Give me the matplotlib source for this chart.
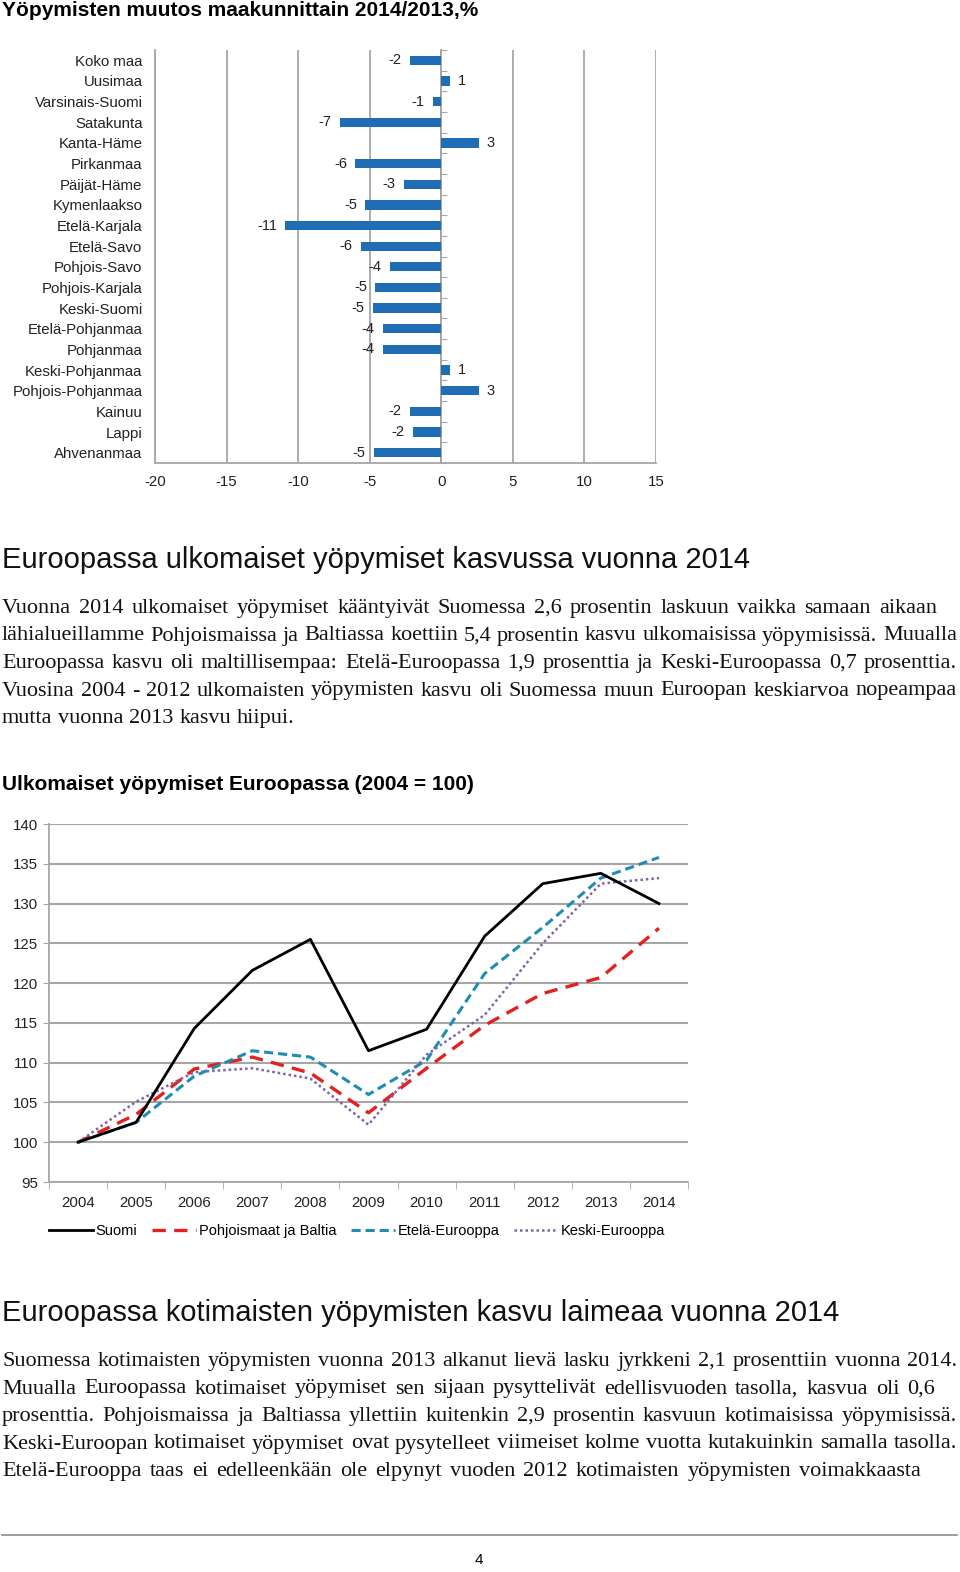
import numpy as np
import matplotlib.pyplot as plt
from matplotlib.lines import Line2D

plt.rcParams['axes.unicode_minus'] = False

# --- data: overnight stays change by region 2014/2013, %
regions = ['Koko maa', 'Uusimaa', 'Varsinais-Suomi', 'Satakunta', 'Kanta-Häme',
           'Pirkanmaa', 'Päijät-Häme', 'Kymenlaakso', 'Etelä-Karjala', 'Etelä-Savo',
           'Pohjois-Savo', 'Pohjois-Karjala', 'Keski-Suomi', 'Etelä-Pohjanmaa',
           'Pohjanmaa', 'Keski-Pohjanmaa', 'Pohjois-Pohjanmaa', 'Kainuu', 'Lappi',
           'Ahvenanmaa']
change = [-2.2, 0.6, -0.6, -7.1, 2.6, -6.0, -2.6, -5.3, -10.9, -5.6,
          -3.6, -4.6, -4.8, -4.1, -4.1, 0.6, 2.6, -2.2, -2.0, -4.7]

# --- data: foreign overnight stays in Europe (2004 = 100)
years = ['2004', '2005', '2006', '2007', '2008', '2009', '2010', '2011', '2012', '2013', '2014']
suomi = [100, 102.5, 114.3, 121.6, 125.5, 111.5, 114.2, 125.9, 132.5, 133.8, 130.0]
pohjoismaat = [100, 103.5, 109.2, 110.7, 108.7, 103.7, 109.3, 114.7, 118.7, 120.7, 126.9]
etela = [100, 102.5, 108.3, 111.5, 110.7, 106.0, 110.3, 121.2, 127.0, 133.2, 135.8]
keski = [100, 105.1, 108.8, 109.3, 108.0, 102.2, 111.0, 116.0, 125.0, 132.5, 133.2]

W, H = 960, 1572
fig = plt.figure(figsize=(W / 100, H / 100), dpi=100)
grey = '#a6a6a6'
sans = 'Liberation Sans'
serif = 'Liberation Serif'


def fy(px):
    return 1 - px / H


# ---------------- bar chart ----------------
fig.text(2 / W, fy(11), 'Yöpymisten muutos maakunnittain 2014/2013,%',
         fontsize=15, fontweight='bold', family=sans, va='center')

ax = fig.add_axes([155 / W, fy(463), 501 / W, 413 / H])
pos = np.arange(len(regions))
bars = ax.barh(pos, change, height=0.45, color='#1f6db5', zorder=3)
ax.bar_label(bars, labels=['%.0f' % v for v in change], padding=6,
             fontsize=10.5, family=sans, color='#222222')
ax.set_ylim(len(regions) - 0.5, -0.5)
ax.set_xlim(-20, 15)
ax.set_xticks(np.arange(-20, 16, 5))
ax.set_yticks(pos, regions)
ax.grid(axis='x', color=grey, lw=1.3, zorder=0)
for s in ['top', 'right']:
    ax.spines[s].set_visible(False)
for s in ['left', 'bottom']:
    ax.spines[s].set_color(grey)
    ax.spines[s].set_linewidth(1.3)
ax.tick_params(axis='y', length=0, pad=9, labelsize=10.8, labelcolor='#222222')
ax.tick_params(axis='x', length=0, pad=9, labelsize=10.8, labelcolor='#222222')
for lab in ax.get_xticklabels() + ax.get_yticklabels():
    lab.set_family(sans)

# category axis crossing at zero
sec = ax.secondary_yaxis(20 / 35)
sec.set_yticks(np.arange(-0.5, len(regions), 1))
sec.tick_params(axis='y', direction='out', length=4, color=grey, labelleft=False,
                labelright=False)
for s in sec.spines.values():
    s.set_color(grey)
    s.set_linewidth(1.3)

# ---------------- text blocks ----------------
renderer = fig.canvas.get_renderer()


def width_of(s, size):
    t = fig.text(0, 0, s, fontsize=size, family=serif)
    w = t.get_window_extent(renderer).width
    t.remove()
    return w


def paragraph(lines, targets, top, step, size):
    space = width_of('a a', size) - width_of('aa', size)
    for i, (line, target) in enumerate(zip(lines, targets)):
        y = fy(top + i * step + 6)
        words = line.split(' ')
        txts = [fig.text(0, y, w, fontsize=size, family=serif, va='baseline',
                         color='#111111') for w in words]
        widths = [t.get_window_extent(renderer).width for t in txts]
        if target is None:
            gap = space
        else:
            gap = max((target - 2 - sum(widths)) / (len(words) - 1), 0.4 * space)
        x = 2
        for t, w in zip(txts, widths):
            t.set_x(x / W)
            x += w + gap


fig.text(2 / W, fy(560), 'Euroopassa ulkomaiset yöpymiset kasvussa vuonna 2014',
         fontsize=21, family=sans, va='center', color='#111111')
para1 = ['Vuonna 2014 ulkomaiset yöpymiset kääntyivät Suomessa 2,6 prosentin laskuun vaikka samaan aikaan',
         'lähialueillamme Pohjoismaissa ja Baltiassa koettiin 5,4 prosentin kasvu ulkomaisissa yöpymisissä. Muualla',
         'Euroopassa kasvu oli maltillisempaa: Etelä-Euroopassa 1,9 prosenttia ja Keski-Euroopassa 0,7 prosenttia.',
         'Vuosina 2004 - 2012 ulkomaisten yöpymisten kasvu oli Suomessa muun Euroopan keskiarvoa nopeampaa',
         'mutta vuonna 2013 kasvu hiipui.']
paragraph(para1, [937, 957, 957, 957, None], 607, 27.5, 16)

fig.text(2 / W, fy(1313), 'Euroopassa kotimaisten yöpymisten kasvu laimeaa vuonna 2014',
         fontsize=21, family=sans, va='center', color='#111111')
para2 = ['Suomessa kotimaisten yöpymisten vuonna 2013 alkanut lievä lasku jyrkkeni 2,1 prosenttiin vuonna 2014.',
         'Muualla Euroopassa kotimaiset yöpymiset sen sijaan pysyttelivät edellisvuoden tasolla, kasvua oli 0,6',
         'prosenttia. Pohjoismaissa ja Baltiassa yllettiin kuitenkin 2,9 prosentin kasvuun kotimaisissa yöpymisissä.',
         'Keski-Euroopan kotimaiset yöpymiset ovat pysytelleet viimeiset kolme vuotta kutakuinkin samalla tasolla.',
         'Etelä-Eurooppa taas ei edelleenkään ole elpynyt vuoden 2012 kotimaisten yöpymisten voimakkaasta']
paragraph(para2, [957, 935, 957, 957, 921], 1360, 27.5, 16)

# ---------------- line chart ----------------
fig.text(2 / W, fy(785), 'Ulkomaiset yöpymiset Euroopassa (2004 = 100)',
         fontsize=15, fontweight='bold', family=sans, va='center')

ax2 = fig.add_axes([49 / W, fy(1182), 639 / W, 358 / H])
x = np.arange(len(years))
l1, = ax2.plot(x, suomi, color='black', lw=2, label='Suomi', zorder=5)
l2, = ax2.plot(x, pohjoismaat, color='#e3211e', lw=2.4, dashes=(4, 2.5),
               label='Pohjoismaat ja Baltia', zorder=4)
l3, = ax2.plot(x, etela, color='#1f8db3', lw=2.2, dashes=(3, 1.6),
               label='Etelä-Eurooppa', zorder=4)
l4, = ax2.plot(x, keski, color='#8062a8', lw=1.8, dashes=(1, 1.2),
               label='Keski-Eurooppa', zorder=4)
ax2.set_xlim(-0.5, len(years) - 0.5)
ax2.set_ylim(95, 140)
ax2.set_yticks(np.arange(95, 141, 5))
ax2.set_xticks(x, years)
ax2.set_xticks(np.arange(-0.5, len(years), 1), minor=True)
ax2.grid(axis='y', color=grey, lw=1.5, zorder=0)
for s in ['top', 'right']:
    ax2.spines[s].set_visible(False)
for s in ['left', 'bottom']:
    ax2.spines[s].set_color(grey)
    ax2.spines[s].set_linewidth(1.3)
ax2.tick_params(axis='x', which='major', length=0, pad=10, labelsize=10.8,
                labelcolor='#222222')
ax2.tick_params(axis='x', which='minor', length=5, color=grey, direction='out')
ax2.tick_params(axis='y', length=4, color=grey, pad=4, labelsize=10.8,
                labelcolor='#222222')
for lab in ax2.get_xticklabels() + ax2.get_yticklabels():
    lab.set_family(sans)

fig.legend(handles=[l1, l2, l3, l4], loc='center', ncol=4, frameon=False,
           bbox_to_anchor=(357 / W, fy(1231)), handlelength=3, handletextpad=0.2,
           columnspacing=1.0, prop={'family': sans, 'size': 10.5})

# ---------------- footer ----------------
fig.add_artist(Line2D([2 / W, 957 / W], [fy(1535), fy(1535)], color='#8c8c8c', lw=1.2))
fig.text(479 / W, fy(1560), '4', fontsize=11, family=sans, ha='center', va='center')

fig.savefig('out.png', dpi=100)
